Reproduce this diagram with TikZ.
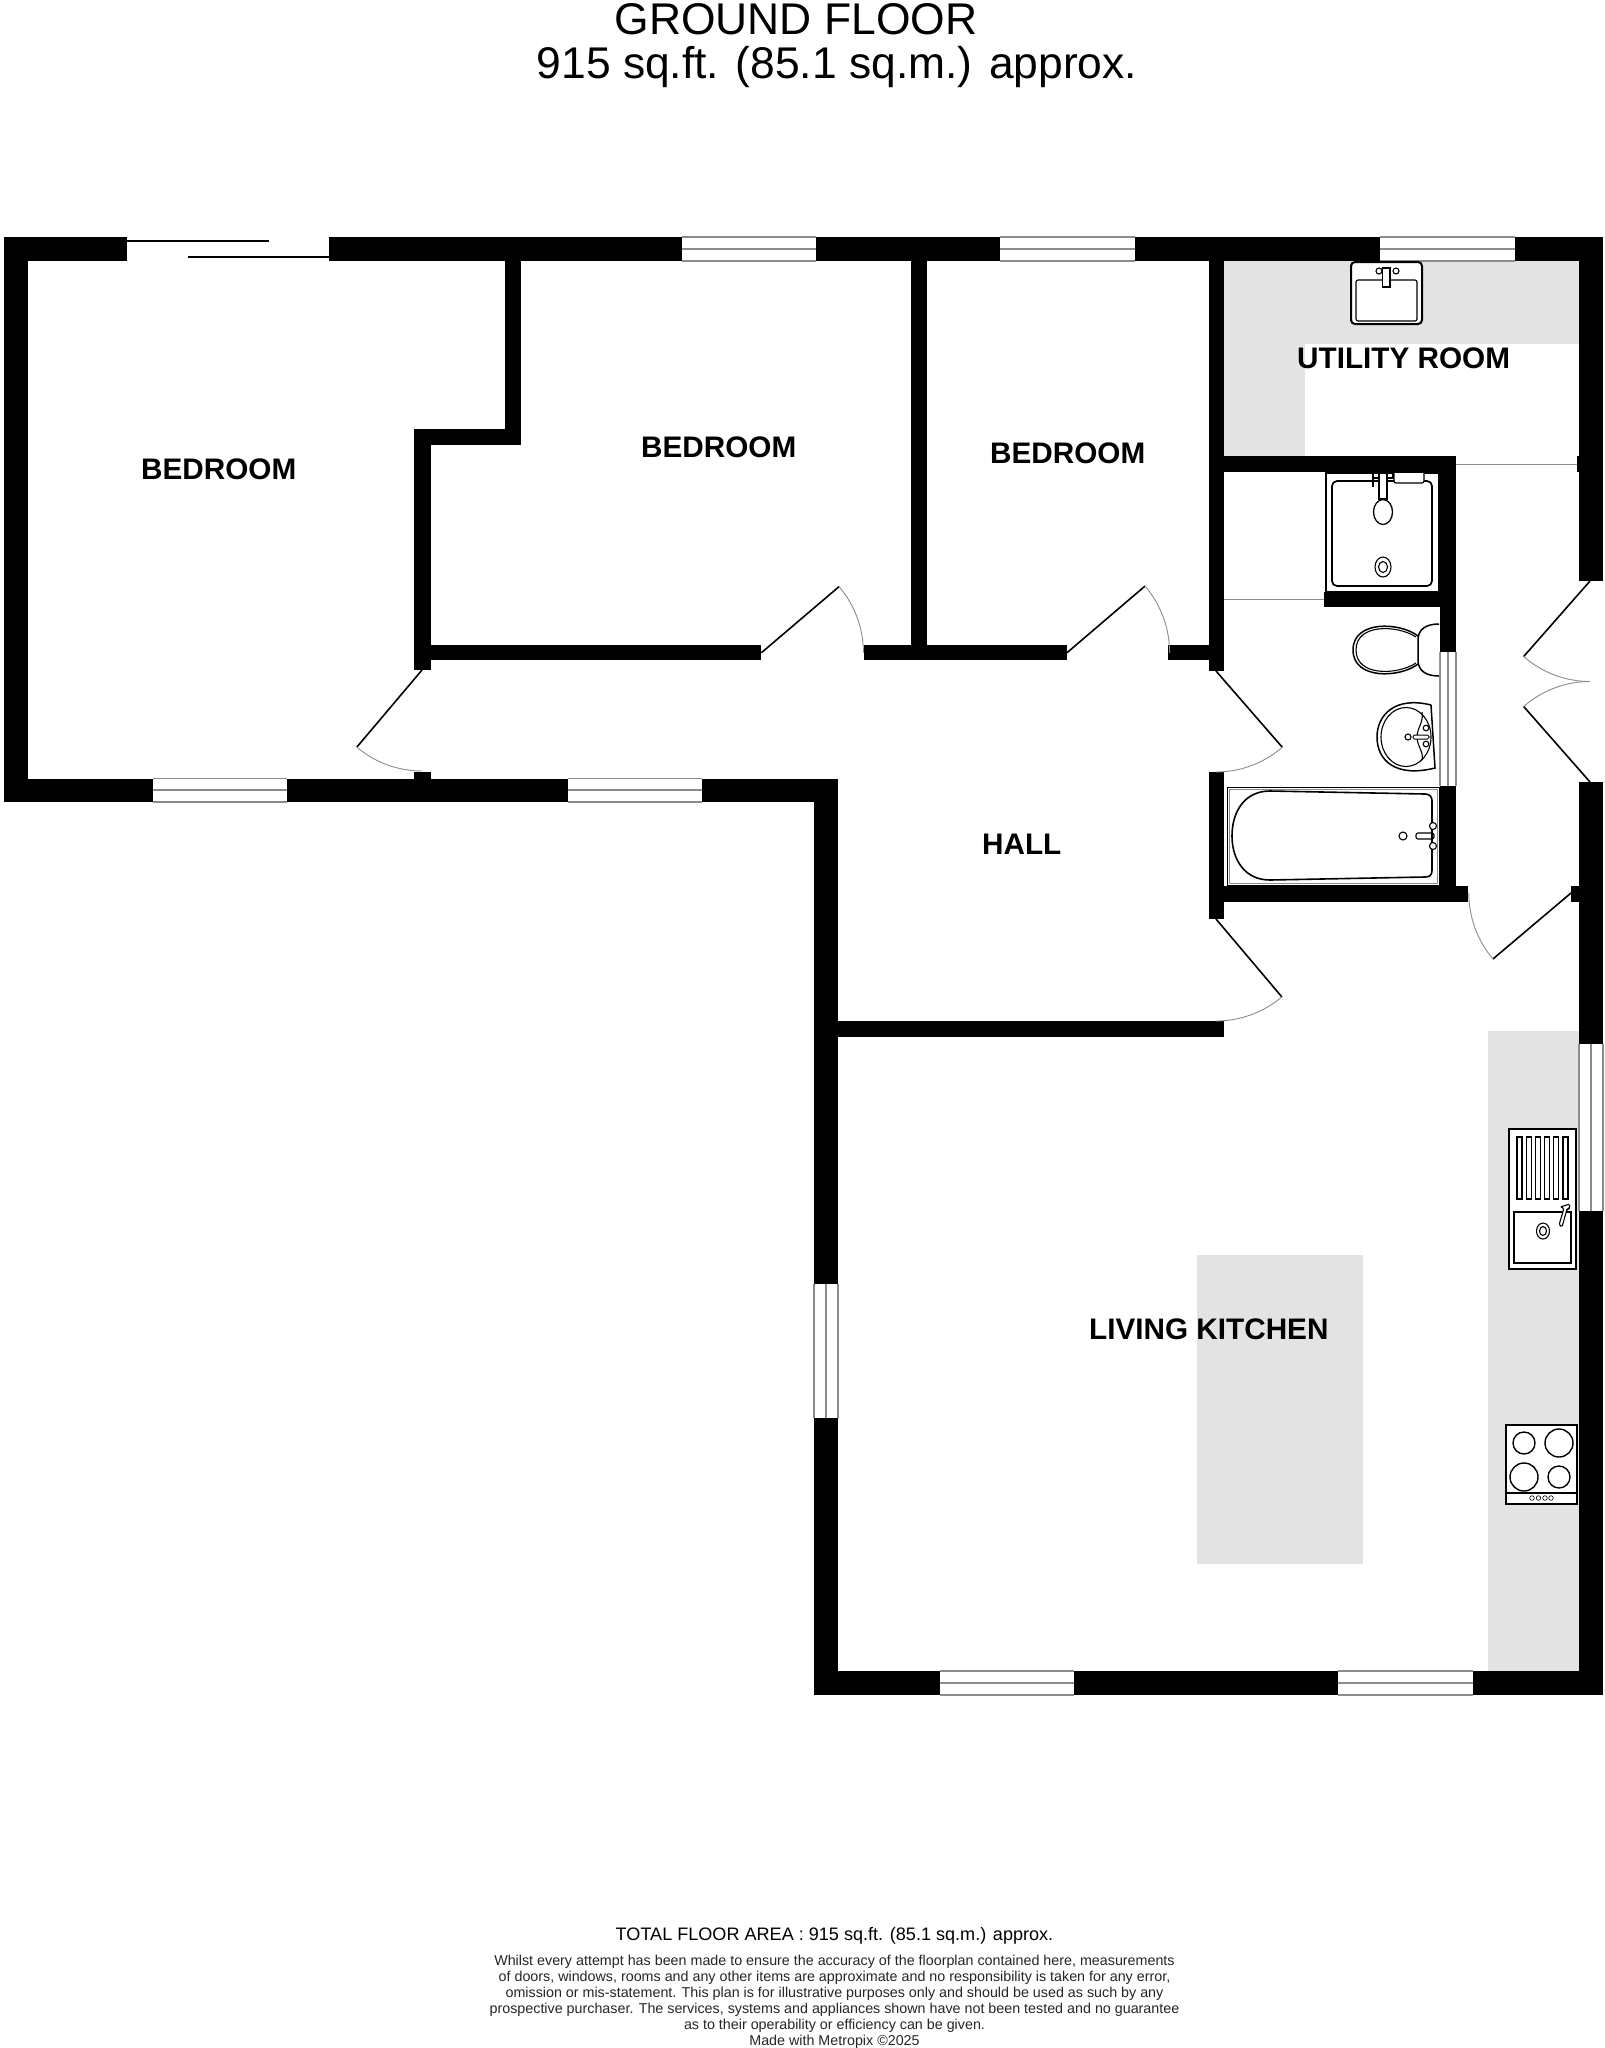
\documentclass[tikz,border=0pt]{standalone}
\usepackage{fontspec}
\setmainfont{Liberation Sans}
\definecolor{unitgrey}{HTML}{E3E3E3}
\definecolor{glassgrey}{HTML}{8C8C8C}
\begin{document}
\begin{tikzpicture}[x=1pt,y=-1pt,
    wall/.style={fill=black},
    unit/.style={fill=unitgrey},
    glass/.style={draw=glassgrey,line width=1.8pt},
    leaf/.style={draw=black,line width=1.6pt},
    swing/.style={draw=glassgrey,line width=.9pt},
    fixture/.style={draw=black,line width=1.5pt,fill=white},
    thinfix/.style={draw=black,line width=1.1pt},
    roomlabel/.style={anchor=base west,inner sep=0pt,font=\bfseries\fontsize{29.7}{32}\selectfont},
    titlelabel/.style={anchor=base west,inner sep=0pt,font=\fontsize{44.4}{50}\selectfont}]
    \useasboundingbox (0,0) rectangle (1605,2048);
    \fill[white] (0,0) rectangle (1605,2048);
    % worktops
    \foreach \xa/\ya/\xb/\yb in {1224/261/1579/344, 1224/261/1305/456, 1197/1255/1363/1564, 1488/1031/1579/1671}
        \fill[unit] (\xa,\ya) rectangle (\xb,\yb);
    % walls
    \foreach \xa/\ya/\xb/\yb in {4/237/127/261, 329/237/682/261, 816/237/1000/261, 1135/237/1380/261, 1515/237/1603/261,
        4/237/27.5/802, 4/778.5/153/802, 287/778.5/567.5/802, 702/778.5/838/802, 414/772/431/802,
        504.5/261/520.7/445, 414/429/520.7/445, 414/429/430.5/670, 430.5/644.5/761.4/660.3, 863.5/644.5/1067/660.3, 1168/644.5/1224/660.3,
        910.6/261/926.5/660, 1208.5/261/1224/671, 1208.5/772/1224/919,
        1224/456/1456/472, 1440/456/1456/652, 1324/592/1456/607, 1440/786/1456/902, 1208.5/886/1468/902,
        1571/886/1579/902, 1577/456/1579/472,
        1579/237/1603/581, 1579/782/1603/1044, 1579/1211/1603/1695,
        814/778.5/838/1283.7, 814/1418/838/1695, 838/1021.3/1224/1037.3,
        814/1671/939.6/1695, 1073.6/1671/1337.5/1695, 1472.5/1671/1603/1695}
        \fill[wall] (\xa,\ya) rectangle (\xb,\yb);
    % windows
    \foreach \xa/\xb/\ya/\yb in {682/816/237/261, 1000/1135/237/261, 1380/1515/237/261, 153/287/778.5/802, 567.5/702/778.5/802, 939.6/1073.6/1671/1695, 1337.5/1472.5/1671/1695}
        {\draw[glass] (\xa,\ya) -- (\xb,\ya) (\xa,\yb) -- (\xb,\yb) (\xa,{(\ya+\yb)/2}) -- (\xb,{(\ya+\yb)/2});}
    \foreach \xa/\xb/\ya/\yb in {1440/1456/652/786, 1579/1603/1044/1211, 814/838/1283.7/1418}
        {\draw[glass] (\xa,\ya) -- (\xa,\yb) (\xb,\ya) -- (\xb,\yb) ({(\xa+\xb)/2},\ya) -- ({(\xa+\xb)/2},\yb);}
    % sliding door and openings
    \draw[leaf] (127,241) -- (268.6,241) (188,257) -- (329,257);
    \draw[swing] (1456,464) -- (1577,464) (1224,599) -- (1324,599);
    % doors
    \foreach \hx/\hy/\aa/\ab/\r in {422/670/130.2/90/101, 761.4/652.7/-40.4/0/102, 1067/652.7/-40.5/0/102.6, 1216/671/49/90/101,
        1216/919/49.8/90/102, 1571/893/139.8/180/102.2, 1590/581/131.3/90/100.5, 1590/782/228.7/270/100.5}
        {\draw[leaf] (\hx,\hy) -- ++(\aa:\r);
        \draw[swing] (\hx,\hy) ++(\aa:\r) arc[start angle=\aa,end angle=\ab,radius=\r];}
    % utility sink
    \draw[fixture,line width=2pt,rounded corners=4pt] (1351,262) rectangle (1422,324);
    \draw[thinfix,rounded corners=2pt] (1356,280) rectangle (1417,321);
    \draw[thinfix] (1379,271) circle (3) (1396,271) circle (3);
    \draw[fixture,line width=1.1pt] (1382.5,268) rectangle (1390,287);
    % shower
    \draw[fixture,line width=1.2pt] (1326,473) rectangle (1439,592);
    \draw[thinfix,line width=1.7pt,rounded corners=5pt] (1332,481) rectangle (1432,586);
    \draw[fixture,line width=1.2pt,rounded corners=2pt] (1394,473) -- (1394,483) -- (1424,483) -- (1424,473);
    \draw[thinfix] (1373,473) -- (1393,473) -- (1393,478) -- (1373,478) -- cycle (1373,478) -- (1373,487);
    \draw[fixture,line width=1.2pt] (1379,473) rectangle (1387,499);
    \draw[fixture,line width=1.3pt] (1383,512) ellipse (9.5 and 12.5);
    \draw[thinfix] (1383,567) ellipse (8 and 10) (1383,567) ellipse (4.5 and 5.5);
    % wc
    \draw[fixture] (1418,636) .. controls (1400,622) and (1353,620) .. (1353,650) .. controls (1353,680) and (1400,678) .. (1418,664);
    \draw[thinfix] (1416,637) .. controls (1398,625) and (1356,623) .. (1356,650) .. controls (1356,677) and (1398,675) .. (1416,663);
    \draw[fixture] (1439,624) .. controls (1425,624) and (1418,630) .. (1418,640) -- (1418,660) .. controls (1418,670) and (1425,676) .. (1439,676);
    % basin
    \draw[fixture] (1431,705) .. controls (1395,696) and (1377,715) .. (1377,737) .. controls (1377,760) and (1395,778) .. (1435,768) -- (1431,705);
    \draw[thinfix] (1406,737) ellipse (25 and 29.5);
    \draw[thinfix] (1422,712) .. controls (1424,722) and (1417,728) .. (1417,737) .. controls (1417,746) and (1424,752) .. (1422,760);
    \draw[thinfix] (1408,737) circle (3) (1426,728) circle (2.8) (1426,744) circle (2.8);
    \draw[fixture,line width=1pt,rounded corners=1.5pt] (1413,735) rectangle (1429,739);
    % bath
    \draw[draw=black,line width=1pt] (1227,787) rectangle (1439,885);
    \draw[draw=glassgrey,line width=1pt] (1229,789) rectangle (1437,883);
    \draw[thinfix,line width=1.6pt] (1270,791) -- (1425,794) .. controls (1430,794) and (1432,797) .. (1432,801) -- (1432,870) .. controls (1432,875) and (1430,877) .. (1425,877) -- (1270,880) .. controls (1245,880) and (1232,860) .. (1232,836) .. controls (1232,811) and (1245,791) .. (1270,791) -- cycle;
    \draw[thinfix] (1403,836) circle (4);
    \draw[thinfix,rounded corners=2pt] (1416,833) rectangle (1434,839);
    \draw[fixture,line width=1.1pt] (1433,826) circle (3.5) (1433,846) circle (3.5);
    % kitchen sink
    \draw[fixture,line width=2pt] (1509,1129) rectangle (1576,1269);
    \foreach \x in {0,1,2,3,4,5} \draw[thinfix] ({1517+9.2*\x},1137) rectangle ({1522+9.2*\x},1199);
    \draw[thinfix] (1514,1212) rectangle (1571,1263);
    \draw[thinfix] (1543,1231) ellipse (6.5 and 8) (1543,1231) ellipse (3.5 and 4.5);
    \draw[fixture,line width=1.1pt,rounded corners=1.5pt] (1559,1225) -- (1564,1208) -- (1560,1207) -- (1570,1204) -- (1569,1209) -- (1567,1209) -- (1562,1227) -- cycle;
    % hob
    \draw[fixture,line width=1.7pt] (1506,1425) rectangle (1577,1504);
    \draw[thinfix,line width=1.2pt] (1506,1493) -- (1577,1493);
    \foreach \x/\y/\r in {1524/1443/11, 1559/1443/14, 1524/1477/14, 1559/1477/11} \draw[thinfix,line width=1.4pt] (\x,\y) circle (\r);
    \foreach \x in {1532,1538.5,1545,1551} \draw[thinfix,line width=.6pt] (\x,1498) circle (2.3);
    % texts
    \node[titlelabel] (groundfloor) at (614.5,34) {GROUND FLOOR};
    \node[titlelabel] (floorsize) at (536.5,78) {915 sq.ft. (85.1 sq.m.) approx.};
    \node[roomlabel] (bedroomone) at (141,479) {BEDROOM};
    \node[roomlabel] (bedroomtwo) at (641,457) {BEDROOM};
    \node[roomlabel] (bedroomthree) at (990,463) {BEDROOM};
    \node[roomlabel] (utilityroom) at (1297,368) {UTILITY ROOM};
    \node[roomlabel] (hall) at (982,854) {HALL};
    \node[roomlabel] (livingkitchen) at (1089,1339) {LIVING KITCHEN};
    \node[anchor=base,inner sep=0pt,font=\fontsize{18.07}{20}\selectfont] (totalarea) at (834.5,1940) {TOTAL FLOOR AREA : 915 sq.ft. (85.1 sq.m.) approx.};
    \node[anchor=north,inner sep=0pt,align=center,font=\fontsize{14.3}{16}\selectfont,text=black!85] (disclaimer) at (834.5,1954.5) {Whilst every attempt has been made to ensure the accuracy of the floorplan contained here, measurements\\
        of doors, windows, rooms and any other items are approximate and no responsibility is taken for any error,\\
        omission or mis-statement. This plan is for illustrative purposes only and should be used as such by any\\
        prospective purchaser. The services, systems and appliances shown have not been tested and no guarantee\\
        as to their operability or efficiency can be given.\\
        Made with Metropix ©2025};
\end{tikzpicture}
\end{document}
